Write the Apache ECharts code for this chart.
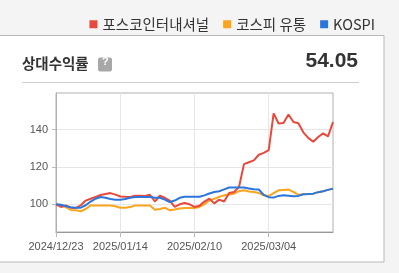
<!DOCTYPE html>
<html><head><meta charset="utf-8">
<script src="https://cdn.jsdelivr.net/npm/echarts@6/dist/echarts.min.js"></script>
<style>html,body{margin:0;padding:0;background:#f4f4f4;}#c{width:399px;height:273px;}</style>
</head><body><div id="c"></div>
<script>
var categories = ['2024/12/23','2024/12/24','2024/12/26','2024/12/27','2024/12/30','2025/01/02','2025/01/03','2025/01/06','2025/01/07','2025/01/08','2025/01/09','2025/01/10','2025/01/13','2025/01/14','2025/01/15','2025/01/16','2025/01/17','2025/01/20','2025/01/21','2025/01/22','2025/01/23','2025/01/24','2025/01/31','2025/02/03','2025/02/04','2025/02/05','2025/02/06','2025/02/07','2025/02/10','2025/02/11','2025/02/12','2025/02/13','2025/02/14','2025/02/17','2025/02/18','2025/02/19','2025/02/20','2025/02/21','2025/02/24','2025/02/25','2025/02/26','2025/02/27','2025/02/28','2025/03/04','2025/03/05','2025/03/06','2025/03/07','2025/03/10','2025/03/11','2025/03/12','2025/03/13','2025/03/14','2025/03/17','2025/03/18','2025/03/19','2025/03/20','2025/03/21'];
var posco = [100,98.6,99.4,98.2,98,99.5,102,103,104,105,105.5,106,105.2,104.2,104,103.9,104.6,104.6,104.4,105.1,101.5,104.6,103.5,102,98.6,100,100.7,100,98.6,99.2,101.5,103,100.5,102.5,101.5,106,106.6,109.3,121.5,122.5,123.5,126.5,127.5,129,148.6,143.2,143.5,148,144,143.3,138.5,135.5,133.4,136,137.9,136.3,144];
var kospiFloat = [100,99.5,98.5,97,96.8,96.3,97.5,99.4,99.4,99.4,99.4,99.4,99,98.2,98.2,98.5,99.4,99.4,99.4,99.4,97.1,97.5,98.2,96.8,97.2,97.8,98,98,98,98.6,100,102.1,103,104,104.8,105.2,105.7,107,107.5,106.8,106.6,106,104.8,104.4,106,107.5,107.7,107.9,106.6,105,105.4,105.5,105.7,106.5,107,107.7,108.4];
var kospi = [100,99.8,99,98.4,98.2,98.2,99.5,101.5,103,103.9,103.5,102.8,102.5,102.5,102.8,103.5,103.9,103.9,103.9,103.9,103.5,103.5,102.5,101.2,102,103.5,104,104,104,104,104.8,105.8,106.6,107,108,109,109,109,109,108.5,108,107.9,105,103.8,103.6,104.5,104.8,104.6,104.3,104.5,105.4,105.5,105.7,106.5,107,107.7,108.4];
var xTickLabels = ['2024/12/23','2025/01/14','2025/02/10','2025/03/04'];
var yTickLabels = [100,120,140];
var seriesNames = ['포스코인터내셔널','코스피 유통','KOSPI'];
var colors = ['#e8493c','#fba41e','#2b76dd'];
var relReturn = '54.05';

function showX(idx){ return xTickLabels.indexOf(categories[idx]) >= 0; }

var chart = echarts.init(document.getElementById('c'));
chart.setOption({
  backgroundColor: '#f4f4f4',
  animation: false,
  color: colors,
  textStyle: {fontFamily: 'Liberation Sans, Arial, sans-serif'},
  graphic: [
    {type:'rect', shape:{x:-2, y:35.5, width:386, height:226.5}, style:{fill:'#fff', stroke:'#b8b8b8', lineWidth:1}, z:-10},
    {type:'text', left:22, top:56, style:{text:'상대수익률', font:'bold 14.5px "Noto Sans CJK KR"', fill:'#333'}},
    {type:'rect', shape:{x:98, y:57.5, width:14, height:14, r:2}, style:{fill:'#a8a8a8'}},
    {type:'text', left:102, top:56.5, style:{text:'?', font:'bold 11px "Liberation Sans"', fill:'#fff'}},
    {type:'text', right:41, top:51, style:{text:relReturn, font:'bold 21px "Liberation Sans", Arial', fill:'#333', align:'right'}},
    {type:'line', shape:{x1:22, y1:82.5, x2:359, y2:82.5}, style:{stroke:'#d0d0d0', lineWidth:1}}
  ],
  legend: {
    right: 19, top: 12, itemWidth: 8, itemHeight: 8, itemGap: 14, icon: 'rect',
    textStyle: {fontFamily: 'Noto Sans CJK KR', fontSize: 14.5, color: '#333'},
    data: seriesNames
  },
  grid: {left: 56, right: 66, top: 93, bottom: 41, show: true, borderColor: '#b0b0b0', borderWidth: 1, containLabel: false},
  xAxis: {
    type: 'category', data: categories, boundaryGap: false,
    axisLine: {lineStyle: {color: '#999'}},
    axisTick: {show: true, interval: function(i){return showX(i);}, length: 5, lineStyle:{color:'#bbb'}},
    axisLabel: {interval: function(i){return showX(i);}, color: '#555', fontSize: 11, margin: 9,
      fontFamily: 'Liberation Sans, Arial'},
    splitLine: {show: true, interval: function(i){return showX(i);}, lineStyle: {color: '#e6e6e6'}}
  },
  yAxis: {
    type: 'value', min: 85.2, max: 159.5,
    axisLine: {show: true, lineStyle: {color: '#b0b0b0'}},
    axisTick: {show: true, length: 4, customValues: yTickLabels, lineStyle:{color:'#bbb'}},
    axisLabel: {customValues: yTickLabels, color: '#555', fontSize: 11, margin: 8, fontFamily: 'Liberation Sans, Arial'},
    splitLine: {show: true, lineStyle: {color: '#e6e6e6'}}
  },
  series: [
    {name: seriesNames[0], type: 'line', data: posco, showSymbol: false, lineStyle: {width: 2}, z: 3},
    {name: seriesNames[1], type: 'line', data: kospiFloat, showSymbol: false, lineStyle: {width: 2}, z: 2},
    {name: seriesNames[2], type: 'line', data: kospi, showSymbol: false, lineStyle: {width: 2}, z: 4}
  ]
});
</script></body></html>
